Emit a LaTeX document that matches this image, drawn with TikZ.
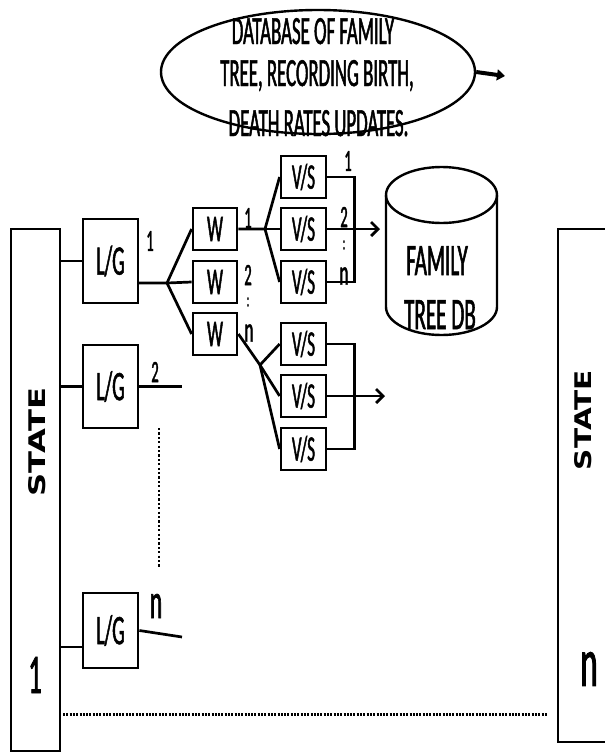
\documentclass[tikz,border=0pt]{standalone}
\usepackage{fontspec}
\usepackage{graphicx}
\usetikzlibrary{shapes.geometric,arrows.meta}
\newfontfamily\cf[FakeStretch=0.47,FakeBold=1.2]{Carlito}
\newfontfamily\stf{DejaVu Sans}
\begin{document}
\begin{tikzpicture}[x=1pt,y=-1pt,
  box/.style={draw,line width=2.8pt,inner sep=0pt},
  lgbox/.style={box,minimum width=55pt,font=\cf\fontsize{42}{42}\selectfont},
  wbox/.style={box,minimum width=44pt,minimum height=42pt,font=\cf\fontsize{38}{38}\selectfont},
  vsbox/.style={box,minimum width=45pt,minimum height=42pt,font=\cf\fontsize{36}{36}\selectfont},
  lab/.style={inner sep=0pt,font=\cf\fontsize{31}{31}\selectfont},
  dlab/.style={inner sep=0pt,font=\cf\fontsize{20}{20}\selectfont},
  nlab/.style={inner sep=0pt,font=\cf\fontsize{36}{36}\selectfont},
  conn/.style={line width=2.7pt},
  arr/.style={conn,-{Straight Barb[length=7pt,width=14pt,line width=2.7pt]}},
  dotline/.style={line width=2.6pt,dash pattern=on 2.2pt off 2.2pt},
  dotlineh/.style={line width=3pt,dash pattern=on 2pt off 1.3pt}]
\useasboundingbox (0,0) rectangle (605,753);
\clip (0,0) rectangle (605,753);

% state boxes
\node[box,minimum width=49pt,minimum height=522pt] (st1) at (35.5,490) {};
\node[box,minimum width=82pt,minimum height=513pt] (stn) at (599,485.5) {};
\node[rotate=90,inner sep=0pt] (stt1) at (37,442) {\resizebox{109pt}{17pt}{\stf\bfseries STATE}};
\node[rotate=90,inner sep=0pt] (sttn) at (583,420) {\resizebox{100pt}{17pt}{\stf\bfseries STATE}};
\node[inner sep=0pt,font=\cf\fontsize{56}{56}\selectfont] (one) at (35,675) {1};
\node[inner sep=0pt,font=\cf\fontsize{70}{70}\selectfont] (enn) at (589,669) {n};

% L/G boxes
\node[lgbox,minimum height=84pt] (lg1) at (110.5,261) {L/G};
\node[lgbox,minimum height=83pt] (lg2) at (110.5,386.5) {L/G};
\node[lgbox,minimum height=75pt] (lgn) at (110.5,630.5) {L/G};

% W boxes
\node[wbox] (w1) at (215,229) {W};
\node[wbox] (w2) at (215,282) {W};
\node[wbox] (w3) at (215,334) {W};

% V/S boxes
\node[vsbox] (vs1) at (303.5,177) {V/S};
\node[vsbox] (vs2) at (303.5,229) {V/S};
\node[vsbox] (vs3) at (303.5,282) {V/S};
\node[vsbox] (vs4) at (303.5,344) {V/S};
\node[vsbox] (vs5) at (303.5,396) {V/S};
\node[vsbox] (vs6) at (303.5,449) {V/S};

% labels
\node[lab] (l1) at (150,241) {1};
\node[lab] (l2) at (155,372) {2};
\node[inner sep=0pt,font=\cf\fontsize{50}{50}\selectfont] (ln) at (156,606) {n};
\node[lab] (wl1) at (248,218) {1};
\node[lab] (wl2) at (248,275) {2};
\node[dlab] (wld) at (248,302) {:};
\node[nlab] (wln) at (249,333) {n};
\node[lab] (vl1) at (348,161) {1};
\node[lab] (vl2) at (344,217) {2};
\node[dlab] (vld) at (344,245) {:};
\node[nlab] (vln) at (344,276) {n};

% connectors from state to L/G
\draw[conn] (lg1.west -| st1.east) -- (lg1.west);
\draw[conn] (lg2.west -| st1.east) -- (lg2.west);
\coordinate (lgnin) at (83,647);
\draw[conn] (lgnin -| st1.east) -- (lgnin);

% L/G 1 to W
\coordinate (lg1out) at (138,283);
\coordinate (b1) at (167,283);
\draw[conn] (lg1out) -- (b1) -- (w1.west);
\draw[conn] (b1) -- (w2.west);
\draw[conn] (b1) -- (w3.west);

% W1 to V/S
\coordinate (b2) at (265,229);
\draw[conn] (w1.east) -- (b2) -- (vs1.west);
\draw[conn] (b2) -- (vs2.west);
\draw[conn] (b2) -- (vs3.west);
\draw[conn] (vs1.east) -- ++(27,0) |- (vs3.east);
\coordinate (a1) at (380,229);
\draw[arr] (vs2.east) -- (a1);

% W3 to V/S
\coordinate (b3) at (260,365);
\draw[conn] (w3.east) -- (b3) -- (vs5.west);
\draw[conn] (b3) -- (vs4.west);
\draw[conn] (b3) -- (vs6.west);
\draw[conn] (vs4.east) -- ++(27,0) |- (vs6.east);
\coordinate (a2) at (385,396);
\draw[arr] (vs5.east) -- (a2);

% L/G 2 and n outputs
\coordinate (o2) at (182,386.5);
\draw[conn] (lg2.east) -- (o2);
\coordinate (on) at (182,637);
\draw[conn] (lgn.east) -- (on);

% dotted lines
\coordinate (dv1) at (159,428); \coordinate (dv2) at (159,567);
\draw[dotline] (dv1) -- (dv2);
\coordinate (dh1) at (63,714); \coordinate (dh2) at (547,714);
\draw[dotlineh] (dh1) -- (dh2);

% ellipse
\node[ellipse,draw,line width=2.4pt,minimum width=314pt,minimum height=124pt,inner sep=0pt] (ell) at (318,72) {};
\node[inner sep=0pt,anchor=base,font=\cf\fontsize{40}{40}\selectfont] (t1) at (313,44) {DATABASE OF FAMILY};
\node[inner sep=0pt,anchor=base,font=\cf\fontsize{40}{40}\selectfont] (t2) at (317,86) {TREE, RECORDING BIRTH,};
\node[inner sep=0pt,anchor=base,font=\cf\fontsize{40}{40}\selectfont] (t3) at (318.5,136) {DEATH RATES UPDATES.};
\coordinate (ea) at (505,76);
\draw[line width=4pt,-{Triangle[length=8pt,width=11pt]}] (ell.east) -- (ea);

% cylinder
\draw[line width=2.4pt] (386,195) -- (386,307) arc[start angle=180,end angle=360,x radius=55.5pt,y radius=28pt] -- (497,195);
\draw[line width=2.4pt] (441.5,195) ellipse [x radius=55.5pt,y radius=28pt];
\node[inner sep=0pt,anchor=base,font=\cf\fontsize{45}{45}\selectfont] (db1) at (437,275) {FAMILY};
\node[inner sep=0pt,anchor=base,font=\cf\fontsize{45}{45}\selectfont] (db2) at (440,329) {TREE DB};
\end{tikzpicture}
\end{document}
